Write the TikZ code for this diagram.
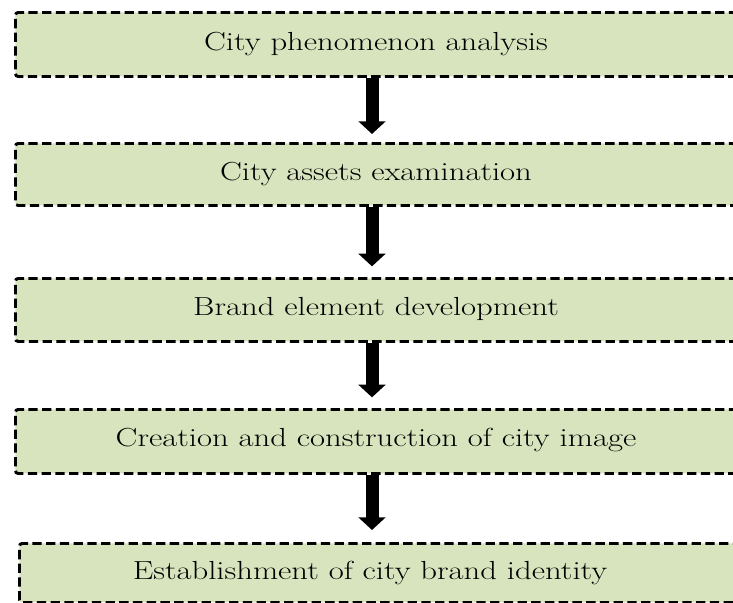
\documentclass[tikz,border=0pt]{standalone}
\usetikzlibrary{arrows.meta}
\definecolor{boxgreen}{HTML}{D7E4BD}
\newcommand{\wideText}[1]{\scalebox{1.25}[1]{#1}}
\begin{document}
\begin{tikzpicture}[x=0.75pt,y=-0.75pt,
  stagebox/.style={draw=black, fill=boxgreen, line width=2.2pt,
    dash pattern=on 7pt off 3.3pt, rounded corners=2pt,
    minimum width=1000*0.75pt, anchor=north west, inner sep=0pt},
  stagetext/.style={font=\fontsize{19.6pt}{23pt}\selectfont, inner sep=0pt},
  flow/.style={line width=9.75pt, -{Triangle[width=20pt,length=9.5pt]}}
]
\useasboundingbox (0,0) rectangle (733,603);
\begin{scope}
\clip (0,0) rectangle (733,603);
\node[stagebox, minimum height=64*0.75pt] (b1) at (14,11) {};
\node[stagebox, minimum height=62*0.75pt] (b2) at (14,142) {};
\node[stagebox, minimum height=63*0.75pt] (b3) at (14,277) {};
\node[stagebox, minimum height=64*0.75pt] (b4) at (14,408) {};
\node[stagebox, minimum height=59*0.75pt] (b5) at (18,542) {};
\end{scope}
\node[stagetext] (t1) at (376,44) {\wideText{City phenomenon analysis}};
\node[stagetext] (t2) at (376,174) {\wideText{City assets examination}};
\node[stagetext] (t3) at (376,309) {\wideText{Brand element development}};
\node[stagetext] (t4) at (376,440) {\wideText{Creation and construction of city image}};
\node[stagetext] (t5) at (370,573) {\wideText{Establishment of city brand identity}};
\coordinate (ax) at (372,0);
\draw[flow] (ax|-b1.south) -- ([yshift=6pt]ax|-b2.north);
\draw[flow] (ax|-b2.south) -- ([yshift=8pt]ax|-b3.north);
\draw[flow] (ax|-b3.south) -- ([yshift=8pt]ax|-b4.north);
\draw[flow] (ax|-b4.south) -- ([yshift=9pt]ax|-b5.north);
\end{tikzpicture}
\end{document}
